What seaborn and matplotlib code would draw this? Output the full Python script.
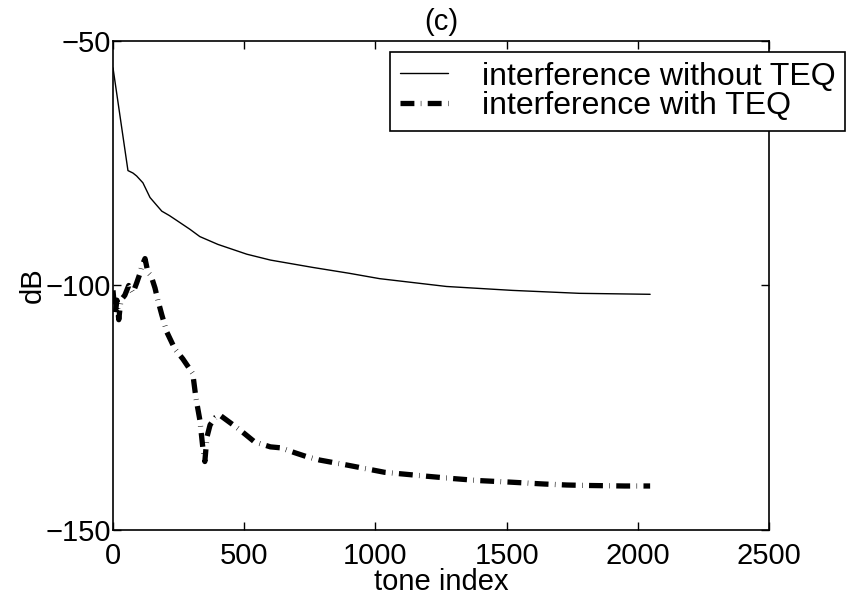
import matplotlib
matplotlib.use("Agg")
import matplotlib.pyplot as plt
import seaborn as sns
import numpy as np
import pandas as pd

# ---- data ----
x_without = [0, 57, 76, 90, 114, 141, 165, 186, 215, 243, 293, 331, 400,
             510, 600, 761, 900, 1016, 1271, 1522, 1777, 2047]
y_without = [-55.5, -76.5, -77, -77.6, -79, -82, -83.5, -84.8, -85.7, -86.7,
             -88.5, -90, -91.6, -93.6, -94.8, -96.3, -97.5, -98.6, -100.2, -101,
             -101.6, -101.8]

x_with = [0, 8, 15, 22, 30, 45, 60, 76, 90, 103, 110, 122, 133, 145, 160, 171, 186,
          205, 236, 266, 304, 316, 331, 342, 350, 358, 370, 390, 407, 445, 483, 540,
          600, 640, 693, 738, 788, 890, 1035, 1195, 1300, 1396, 1510, 1644, 1730,
          1815, 1950, 2047]
y_with = [-101, -106, -103, -107, -103, -102, -100, -101.5, -99.5, -97.5, -96, -94.5,
          -97.3, -98, -100.5, -103, -106, -109.5, -113, -115, -118, -123, -127.5,
          -133, -136, -131, -128.5, -127, -126.5, -128, -129.5, -132, -133, -133.2,
          -134.2, -135, -135.7, -136.7, -138.2, -139, -139.5, -139.9, -140.2, -140.6,
          -140.8, -140.9, -141, -141]

labels = ["interference without TEQ", "interference with TEQ"]
x_ticks = [0, 500, 1000, 1500, 2000, 2500]
y_ticks = [-150, -100, -50]

sns.set_theme(style="white")
plt.rcParams['font.family'] = ['Liberation Sans', 'DejaVu Sans']
plt.rcParams['lines.scale_dashes'] = False
for k in ['text.color', 'axes.labelcolor', 'xtick.color', 'ytick.color']:
    plt.rcParams[k] = 'black'

fig = plt.figure(figsize=(8.48, 6.12), dpi=100)
ax = fig.add_axes([113/848, 1 - 530/612, (769 - 113)/848, (530 - 41)/612])

sns.lineplot(x=x_without, y=y_without, ax=ax, color="black", linewidth=1.0,
             label=labels[0], estimator=None, sort=False)
sns.lineplot(x=x_with, y=y_with, ax=ax, color="black", linewidth=3.8,
             linestyle=(0, (10, 4.6, 0.4, 4.6)), label=labels[1],
             estimator=None, sort=False, dash_capstyle="butt")

ax.set_xlim(0, 2500)
ax.set_ylim(-150, -50)
ax.set_xticks(x_ticks)
ax.set_yticks(y_ticks)
ax.tick_params(direction="in", length=6, width=1, labelsize=21, colors="black",
               top=True, right=True, bottom=True, left=True)
ax.tick_params(axis='x', pad=8.5)
ax.tick_params(axis='y', pad=1.5)
for s in ax.spines.values():
    s.set_visible(True)
    s.set_color("black")
    s.set_linewidth(1.2)

ax.set_xlabel("tone index", fontsize=21, labelpad=-1.5)
ax.set_ylabel("dB", fontsize=21)
ax.yaxis.set_label_coords(-0.101, 0.5)
ax.set_title("(c)", fontsize=21, pad=8)

leg = ax.legend(loc="upper left", bbox_to_anchor=(390/848, 1 - 52/612),
                bbox_transform=fig.transFigure, fontsize=23, frameon=True,
                fancybox=False, edgecolor="black", framealpha=1,
                handlelength=1.5, handletextpad=1.08, borderpad=0.3,
                labelspacing=-0.02, borderaxespad=0)
leg.get_frame().set_linewidth(1.2)

fig.savefig("out.png", dpi=100, facecolor="white")
